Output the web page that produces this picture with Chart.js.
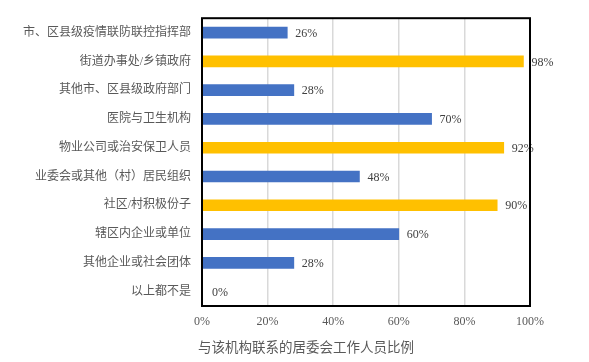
<!DOCTYPE html>
<html>
<head>
<meta charset="utf-8">
<script src="https://cdn.jsdelivr.net/npm/chart.js@4"></script>
<style>
html,body{margin:0;padding:0;background:#fff;}
#wrap{width:589px;height:362px;}
</style>
</head>
<body>
<div id="wrap"><canvas id="c"></canvas></div>
<script>
const categories = ["市、区县级疫情联防联控指挥部","街道办事处/乡镇政府","其他市、区县级政府部门","医院与卫生机构","物业公司或治安保卫人员","业委会或其他（村）居民组织","社区/村积极份子","辖区内企业或单位","其他企业或社会团体","以上都不是"];
const values = [26,98,28,70,92,48,90,60,28,0];
const highlighted = [false,true,false,false,true,false,true,false,false,false];
const xTicks = [0,20,40,60,80,100];
const axisTitle = "与该机构联系的居委会工作人员比例";

const FONT = "'Liberation Serif','Times New Roman','Noto Sans CJK SC',serif";
const BLUE = "#4472C4", GOLD = "#FFC000";

const frame = {
  id:'frame',
  afterDraw(chart){
    const {ctx, chartArea:a} = chart;
    ctx.save();
    ctx.strokeStyle = '#000';
    ctx.lineWidth = 2;
    ctx.strokeRect(a.left, a.top, a.right-a.left, a.bottom-a.top);
    ctx.restore();
  }
};
const valueLabels = {
  id:'valueLabels',
  afterDatasetsDraw(chart){
    const {ctx} = chart;
    const meta = chart.getDatasetMeta(0);
    ctx.save();
    ctx.font = "12px " + FONT;
    ctx.fillStyle = '#404040';
    ctx.textAlign = 'left';
    ctx.textBaseline = 'middle';
    meta.data.forEach((bar,i)=>{
      const x = values[i] === 0 ? chart.scales.x.getPixelForValue(0) + 10 : bar.x + 8;
      ctx.fillText(values[i] + '%', x, bar.y + 1);
    });
    ctx.restore();
  }
};
const bottomTitle = {
  id:'bottomTitle',
  afterDraw(chart){
    const {ctx} = chart;
    ctx.save();
    ctx.font = "13.5px " + FONT;
    ctx.fillStyle = '#595959';
    ctx.textAlign = 'center';
    ctx.textBaseline = 'middle';
    ctx.fillText(axisTitle, 306, 348);
    ctx.restore();
  }
};

new Chart(document.getElementById('c'), {
  type:'bar',
  data:{
    labels:categories,
    datasets:[{
      data:values,
      backgroundColor: values.map((v,i)=>highlighted[i]?GOLD:BLUE),
      barThickness:11,
      borderWidth:0
    }]
  },
  options:{
    indexAxis:'y',
    responsive:true,
    maintainAspectRatio:false,
    animation:false,
    layout:{padding:{top:16,right:59,left:0,bottom:26}},
    plugins:{
      legend:{display:false},
      tooltip:{enabled:false},
      title:{display:false}
    },
    scales:{
      x:{
        min:0,max:100,
        afterBuildTicks(s){ s.ticks = xTicks.map(v=>({value:v})); },
        afterFit(s){ s.height = 30; },
        grid:{color:'#d9d9d9',lineWidth:1.5,drawTicks:false},
        border:{display:false},
        ticks:{
          color:'#595959',
          font:{family:FONT,size:12},
          padding:9,
          callback:(v)=>v+'%'
        }
      },
      y:{
        afterFit(s){ s.width = 202; },
        grid:{display:false,drawTicks:false},
        border:{display:false},
        ticks:{
          color:'#595959',
          font:{family:FONT,size:12},
          padding:11
        }
      }
    }
  },
  plugins:[frame,valueLabels,bottomTitle]
});
</script>
</body>
</html>
